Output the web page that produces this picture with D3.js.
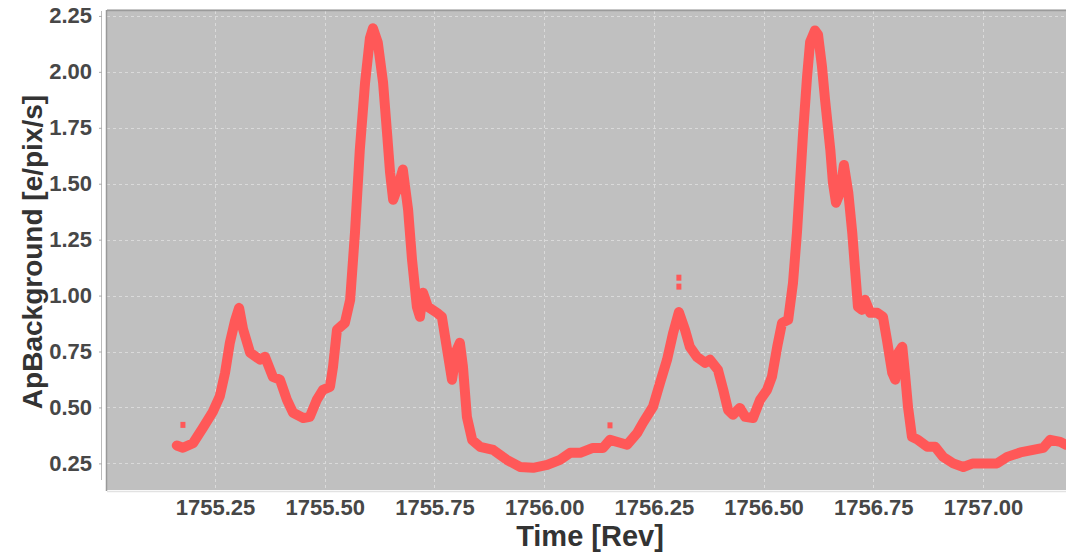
<!DOCTYPE html>
<html>
<head>
<meta charset="utf-8">
<script src="https://cdn.jsdelivr.net/npm/d3@7"></script>
<style>
  html, body { margin: 0; padding: 0; background: #fff; }
  svg { display: block; font-family: "Liberation Sans", Arial, Helvetica, sans-serif; }
</style>
</head>
<body>
<svg id="chart"></svg>
<script>
// time in revolutions
const revs = [
  1755.163, 1755.177, 1755.200, 1755.223, 1755.245, 1755.261, 1755.273, 1755.284, 1755.296, 1755.305,
  1755.314, 1755.330, 1755.353, 1755.364, 1755.382, 1755.398, 1755.414, 1755.428, 1755.451, 1755.466,
  1755.482, 1755.496, 1755.512, 1755.519, 1755.528, 1755.546, 1755.558, 1755.569, 1755.580, 1755.592,
  1755.603, 1755.610, 1755.621, 1755.633, 1755.642, 1755.649, 1755.656, 1755.667, 1755.678, 1755.690,
  1755.699, 1755.710, 1755.717, 1755.724, 1755.735, 1755.756, 1755.767, 1755.779, 1755.790, 1755.801,
  1755.808, 1755.815, 1755.824, 1755.836, 1755.854, 1755.884, 1755.915, 1755.945, 1755.975, 1756.007,
  1756.036, 1756.059, 1756.082, 1756.111, 1756.134, 1756.150, 1756.173, 1756.189, 1756.212, 1756.225,
  1756.248, 1756.264, 1756.280, 1756.294, 1756.307, 1756.321, 1756.332, 1756.348, 1756.367, 1756.378,
  1756.396, 1756.408, 1756.419, 1756.430, 1756.446, 1756.458, 1756.476, 1756.492, 1756.508, 1756.519,
  1756.531, 1756.542, 1756.556, 1756.567, 1756.576, 1756.583, 1756.590, 1756.599, 1756.606, 1756.617,
  1756.624, 1756.633, 1756.640, 1756.652, 1756.658, 1756.665, 1756.674, 1756.683, 1756.693, 1756.702,
  1756.709, 1756.715, 1756.724, 1756.731, 1756.743, 1756.759, 1756.772, 1756.781, 1756.793, 1756.800,
  1756.807, 1756.816, 1756.822, 1756.829, 1756.838, 1756.852, 1756.873, 1756.891, 1756.909, 1756.932,
  1756.955, 1756.977, 1757.009, 1757.032, 1757.055, 1757.085, 1757.114, 1757.137, 1757.153, 1757.176,
  1757.189
];

// ApBackground in e/pix/s
const background = [
  0.330, 0.320, 0.340, 0.410, 0.480, 0.550, 0.655, 0.790, 0.890, 0.945,
  0.850, 0.745, 0.713, 0.726, 0.637, 0.624, 0.534, 0.476, 0.453, 0.458,
  0.534, 0.579, 0.592, 0.682, 0.847, 0.878, 0.981, 1.281, 1.652, 1.952,
  2.150, 2.195, 2.131, 1.952, 1.728, 1.549, 1.428, 1.487, 1.563, 1.384,
  1.160, 0.950, 0.905, 1.013, 0.950, 0.923, 0.905, 0.758, 0.624, 0.758,
  0.789, 0.682, 0.458, 0.355, 0.324, 0.310, 0.266, 0.234, 0.230, 0.243,
  0.266, 0.297, 0.297, 0.319, 0.319, 0.355, 0.342, 0.333, 0.386, 0.431,
  0.503, 0.610, 0.713, 0.834, 0.926, 0.847, 0.771, 0.726, 0.699, 0.713,
  0.668, 0.579, 0.489, 0.467, 0.498, 0.458, 0.453, 0.534, 0.579, 0.637,
  0.771, 0.878, 0.892, 1.057, 1.281, 1.504, 1.728, 1.978, 2.134, 2.185,
  2.166, 2.024, 1.876, 1.652, 1.504, 1.415, 1.460, 1.584, 1.460, 1.281,
  1.102, 0.950, 0.936, 0.981, 0.923, 0.923, 0.905, 0.802, 0.655, 0.624,
  0.744, 0.771, 0.655, 0.503, 0.369, 0.355, 0.324, 0.324, 0.279, 0.250,
  0.234, 0.250, 0.250, 0.250, 0.279, 0.299, 0.310, 0.319, 0.355, 0.346,
  0.333
];

// isolated samples off the main band
const strayRevs = [1755.177, 1756.150, 1756.307, 1756.307];
const strayValues = [0.422, 0.420, 1.080, 1.040];

const xTicks = [1755.25, 1755.50, 1755.75, 1756.00, 1756.25, 1756.50, 1756.75, 1757.00];
const yTicks = [0.25, 0.50, 0.75, 1.00, 1.25, 1.50, 1.75, 2.00, 2.25];

const W = 1066, H = 554;
const plot = { left: 107, top: 11, right: 1066, bottom: 490 };

const svg = d3.select('#chart').attr('width', W).attr('height', H);

const x = d3.scaleLinear().domain([1755.004, 1757.189]).range([plot.left, plot.right]);
const y = d3.scaleLinear().domain([0.131, 2.272]).range([plot.bottom, plot.top]);

svg.append('defs').append('clipPath').attr('id', 'clip')
   .append('rect')
   .attr('x', plot.left).attr('y', plot.top)
   .attr('width', plot.right - plot.left).attr('height', plot.bottom - plot.top);

// plot background
svg.append('rect')
   .attr('x', plot.left).attr('y', plot.top)
   .attr('width', plot.right - plot.left).attr('height', plot.bottom - plot.top)
   .attr('fill', '#c0c0c0');

// grid
const grid = svg.append('g').attr('stroke', '#dadada').attr('stroke-width', 1).attr('stroke-dasharray', '3,3');
grid.selectAll('.gy').data(yTicks).enter().append('line')
    .attr('x1', plot.left).attr('x2', plot.right)
    .attr('y1', d => Math.round(y(d)) + 0.5).attr('y2', d => Math.round(y(d)) + 0.5);
grid.selectAll('.gx').data(xTicks).enter().append('line')
    .attr('y1', plot.top).attr('y2', plot.bottom)
    .attr('x1', d => Math.round(x(d)) + 0.5).attr('x2', d => Math.round(x(d)) + 0.5);

// borders
svg.append('line').attr('x1', plot.left).attr('x2', plot.right)
   .attr('y1', plot.top - 1.5).attr('y2', plot.top - 1.5).attr('stroke', '#d6d6d6').attr('stroke-width', 1);
svg.append('line').attr('x1', plot.left).attr('x2', plot.right)
   .attr('y1', plot.top - 0.5).attr('y2', plot.top - 0.5).attr('stroke', '#9a9a9a').attr('stroke-width', 1.5);
svg.append('line').attr('x1', plot.left - 0.5).attr('x2', plot.left - 0.5)
   .attr('y1', plot.top - 1).attr('y2', plot.bottom + 1).attr('stroke', '#999').attr('stroke-width', 1.5);
svg.append('line').attr('x1', plot.left).attr('x2', plot.right)
   .attr('y1', plot.bottom + 1.5).attr('y2', plot.bottom + 1.5).attr('stroke', '#e2e2e2').attr('stroke-width', 1.5);

// y axis
const yAxis = svg.append('g')
   .attr('transform', `translate(${plot.left - 5},0)`)
   .call(d3.axisLeft(y).tickValues(yTicks).tickFormat(d3.format('.2f')).tickSize(3).tickPadding(7));
yAxis.select('.domain').attr('stroke', '#bbb').attr('d', `M-0.5,${plot.top}V${plot.bottom - 10}`);
yAxis.selectAll('.tick line').attr('stroke', '#aaa');
yAxis.selectAll('.tick text')
     .attr('font-size', 22).attr('font-weight', 'bold').attr('fill', '#474747')
     .attr('font-family', '"Liberation Sans", Arial, sans-serif');

// x axis
const xAxis = svg.append('g')
   .attr('transform', `translate(0,${plot.bottom + 3})`)
   .call(d3.axisBottom(x).tickValues(xTicks).tickFormat(d3.format('.2f')).tickSize(0).tickPadding(6));
xAxis.select('.domain').remove();
xAxis.selectAll('.tick text')
     .attr('font-size', 22).attr('font-weight', 'bold').attr('fill', '#474747')
     .attr('font-family', '"Liberation Sans", Arial, sans-serif');

// data
const series = revs.map((r, i) => ({ r, v: background[i] }));
const line = d3.line().x(d => x(d.r)).y(d => y(d.v));

const marks = svg.append('g').attr('clip-path', 'url(#clip)');
marks.append('path')
   .datum(series)
   .attr('d', line)
   .attr('fill', 'none')
   .attr('stroke', '#ff5858')
   .attr('stroke-width', 10)
   .attr('stroke-linejoin', 'round')
   .attr('stroke-linecap', 'round');

marks.selectAll('.stray')
   .data(strayRevs.map((r, i) => ({ r, v: strayValues[i] })))
   .enter().append('rect')
   .attr('x', d => x(d.r) - 2.5).attr('y', d => y(d.v) - 3)
   .attr('width', 5).attr('height', 6)
   .attr('fill', '#ff5858');

// axis titles
svg.append('text')
   .attr('x', 590).attr('y', 546)
   .attr('text-anchor', 'middle')
   .attr('font-size', 29).attr('font-weight', 'bold').attr('fill', '#333')
   .text('Time [Rev]');

svg.append('text')
   .attr('transform', 'translate(42,252) rotate(-90)')
   .attr('text-anchor', 'middle')
   .attr('font-size', 28).attr('font-weight', 'bold').attr('fill', '#333')
   .text('ApBackground [e/pix/s]');
</script>
</body>
</html>
